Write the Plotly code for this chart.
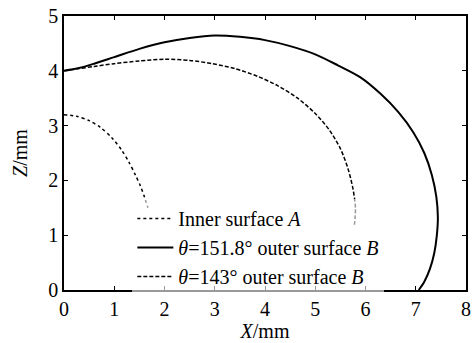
import plotly.graph_objects as go

# Inner surface A (dotted)
inner_x = [0.0, 0.25, 0.5, 0.72, 0.95, 1.15, 1.3, 1.42, 1.52, 1.6, 1.67]
inner_z = [3.2, 3.17, 3.09, 2.97, 2.78, 2.55, 2.32, 2.1, 1.9, 1.7, 1.5]

# theta = 151.8 deg outer surface B (solid)
s_x = [0.0, 0.3, 0.6, 1.0, 1.5, 2.0, 2.5, 3.0, 3.5, 4.0, 4.5, 5.0, 5.45, 5.9, 6.3, 6.65, 6.95, 7.17, 7.32, 7.41, 7.44, 7.42, 7.37, 7.28, 7.17, 7.06]
s_z = [4.0, 4.05, 4.13, 4.25, 4.4, 4.52, 4.6, 4.645, 4.62, 4.56, 4.45, 4.3, 4.1, 3.88, 3.58, 3.25, 2.88, 2.5, 2.1, 1.7, 1.33, 1.0, 0.68, 0.38, 0.15, 0.0]

# theta = 143 deg outer surface B (dashed)
d_x = [0.0, 0.3, 0.6, 1.0, 1.5, 2.0, 2.5, 2.95, 3.4, 3.85, 4.25, 4.65, 5.0, 5.28, 5.5, 5.65, 5.75, 5.8, 5.78]
d_z = [4.0, 4.04, 4.08, 4.13, 4.18, 4.21, 4.19, 4.13, 4.04, 3.9, 3.73, 3.5, 3.22, 2.92, 2.58, 2.22, 1.85, 1.5, 1.19]

names = ["Inner surface <i>A</i>",
         "<i>θ</i>=151.8° outer surface <i>B</i>",
         "<i>θ</i>=143° outer surface <i>B</i>"]

font = "Liberation Serif, Times New Roman, serif"

fig = go.Figure()
fig.add_trace(go.Scatter(x=inner_x, y=inner_z, mode="lines", name=names[0],
                         line=dict(color="black", width=1.5, dash="dot", shape="spline", smoothing=0.8)))
fig.add_trace(go.Scatter(x=s_x, y=s_z, mode="lines", name=names[1],
                         line=dict(color="black", width=2, shape="spline", smoothing=0.8)))
fig.add_trace(go.Scatter(x=d_x, y=d_z, mode="lines", name=names[2],
                         line=dict(color="black", width=1.5, dash="4px,2px", shape="spline", smoothing=0.8)))

axis_common = dict(showgrid=False, zeroline=False, showline=True, linecolor="black",
                   linewidth=1.5, mirror="ticks", ticks="inside", ticklen=4,
                   tickcolor="black", tickwidth=1,
                   tickfont=dict(family=font, size=20, color="black"))

fig.update_layout(
    width=474, height=343,
    margin=dict(l=64, r=3, t=16, b=53),
    paper_bgcolor="white", plot_bgcolor="white",
    font=dict(family=font, size=20, color="black"),
    xaxis=dict(range=[0, 8], dtick=1, title=dict(text="<i>X</i>/mm", standoff=0,
               font=dict(family=font, size=20)), **axis_common),
    yaxis=dict(range=[0, 5], dtick=1, title=dict(text="<i>Z</i>/mm", standoff=15,
               font=dict(family=font, size=20)), **axis_common),
    legend=dict(x=0.17, y=-0.022, xanchor="left", yanchor="bottom",
                bgcolor="rgba(255,255,255,0.6)", borderwidth=0,
                font=dict(family=font, size=20), tracegroupgap=0, itemwidth=36),
    showlegend=True,
)

fig.write_html("out.html")
